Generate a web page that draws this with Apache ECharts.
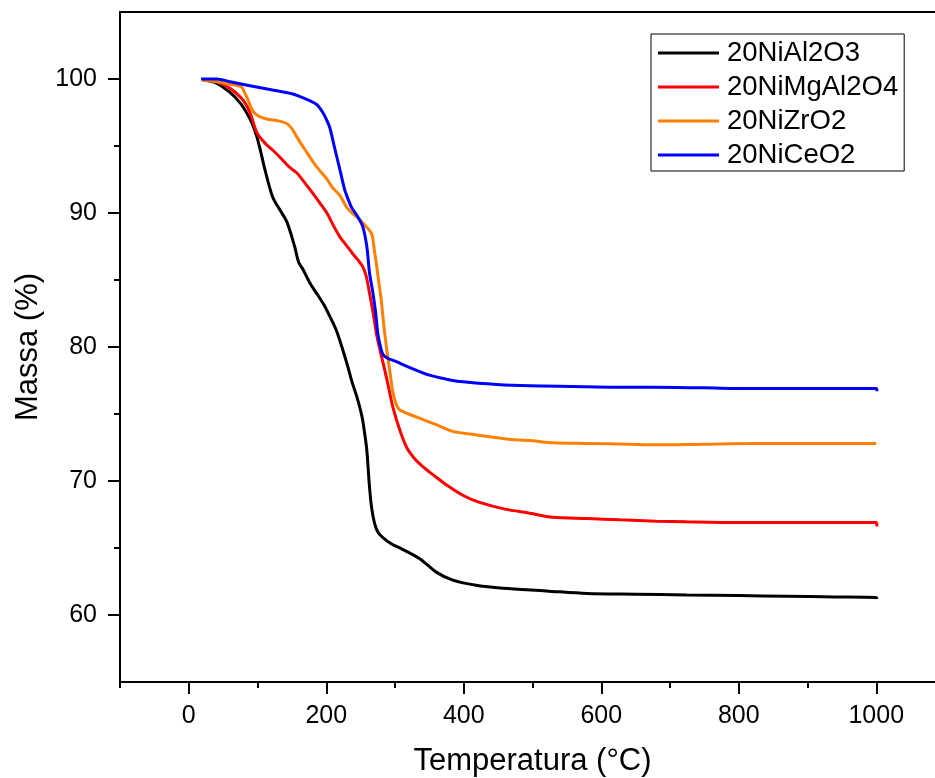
<!DOCTYPE html>
<html>
<head>
<meta charset="utf-8">
<script src="https://cdn.jsdelivr.net/npm/echarts@6/dist/echarts.min.js"></script>
<style>html,body{margin:0;padding:0;background:#fff;}#chart{width:935px;height:778px;}</style>
</head>
<body>
<div id="chart"></div>
<script>
// ---- Data ----
var seriesNames = ['20NiAl2O3', '20NiMgAl2O4', '20NiZrO2', '20NiCeO2'];
var seriesColors = ['#000000', '#ff0000', '#ff8000', '#0000ff'];

var tAl2O3 = [22, 40, 60, 75, 84, 92, 99, 105, 111, 122, 133, 143, 154, 160, 166, 176, 186, 196, 205, 215, 224, 231, 238, 245, 252, 256, 259, 263, 266, 270, 275, 282, 295, 311, 336, 360, 384, 420, 457, 520, 579, 650, 724, 800, 869, 940, 1000, 1001];
var mAl2O3 = [99.9, 99.7, 99.0, 98.2, 97.5, 96.7, 95.7, 94.5, 93.2, 91.2, 90.2, 89.3, 87.5, 86.3, 85.8, 84.8, 84.0, 83.2, 82.3, 81.2, 79.8, 78.6, 77.3, 76.2, 74.8, 73.5, 72.3, 69.5, 68.0, 66.9, 66.2, 65.8, 65.3, 64.9, 64.2, 63.2, 62.6, 62.2, 62.0, 61.8, 61.6, 61.55, 61.5, 61.45, 61.4, 61.35, 61.3, 61.2];

var tMgAl2O4 = [20, 40, 60, 74, 82, 89, 99, 106, 113, 122, 132, 147, 157, 168, 180, 190, 201, 210, 220, 229, 238, 246, 253, 258, 263, 268, 273, 279, 285, 291, 297, 307, 317, 328, 340, 357, 375, 400, 423, 460, 496, 529, 580, 627, 680, 724, 800, 869, 940, 1000, 1001];
var mMgAl2O4 = [99.9, 99.8, 99.3, 98.7, 98.2, 97.5, 96.0, 95.5, 95.1, 94.7, 94.2, 93.4, 93.0, 92.3, 91.5, 90.8, 90.0, 89.1, 88.2, 87.6, 87.0, 86.5, 86.0, 85.3, 84.0, 82.6, 81.0, 79.6, 78.3, 76.9, 75.5, 73.8, 72.5, 71.7, 71.1, 70.4, 69.7, 68.9, 68.4, 67.9, 67.6, 67.3, 67.2, 67.1, 67.0, 66.95, 66.9, 66.9, 66.9, 66.9, 66.6];

var tZrO2 = [20, 40, 60, 72, 77, 81, 84, 88, 92, 97, 103, 115, 128, 142, 150, 157, 163, 172, 181, 190, 200, 209, 220, 230, 240, 249, 256, 263, 267, 270, 273, 276, 280, 284, 288, 293, 297, 302, 307, 320, 340, 360, 384, 410, 438, 470, 500, 530, 580, 640, 675, 750, 820, 900, 1000];
var mZrO2 = [99.9, 99.8, 99.6, 99.5, 99.4, 99.0, 98.7, 98.2, 97.7, 97.4, 97.2, 97.0, 96.9, 96.7, 96.3, 95.7, 95.2, 94.5, 93.8, 93.2, 92.6, 91.9, 91.3, 90.4, 89.9, 89.5, 89.1, 88.7, 88.3, 87.2, 86.2, 85.0, 83.5, 81.5, 79.8, 78.0, 76.6, 75.7, 75.3, 75.0, 74.6, 74.2, 73.7, 73.5, 73.3, 73.1, 73.0, 72.85, 72.8, 72.75, 72.7, 72.75, 72.8, 72.8, 72.8];

var tCeO2 = [18, 30, 41, 60, 89, 120, 150, 161, 175, 186, 195, 200, 205, 212, 220, 227, 232, 237, 246, 253, 259, 263, 268, 272, 275, 279, 282, 288, 302, 320, 350, 375, 399, 448, 496, 560, 620, 675, 750, 820, 869, 940, 1000, 1001];
var mCeO2 = [100.0, 100.0, 100.0, 99.8, 99.5, 99.2, 98.9, 98.7, 98.4, 98.1, 97.5, 97.0, 96.4, 94.9, 93.2, 91.7, 91.0, 90.4, 89.7, 89.0, 87.5, 85.5, 84.0, 82.5, 81.0, 80.0, 79.5, 79.2, 78.9, 78.5, 77.9, 77.6, 77.4, 77.2, 77.1, 77.05, 77.0, 77.0, 76.95, 76.9, 76.9, 76.9, 76.9, 76.7];

var xMajorTicks = [0, 200, 400, 600, 800, 1000];
var xMinorTicks = [-100, 100, 300, 500, 700, 900];
var yMajorTicks = [60, 70, 80, 90, 100];
var yMinorTicks = [65, 75, 85, 95];
var xTitle = 'Temperatura (°C)';
var yTitle = 'Massa (%)';

// ---- Chart ----
var FONT = 'Liberation Sans, Arial, sans-serif';
var allT = [tAl2O3, tMgAl2O4, tZrO2, tCeO2];
var allM = [mAl2O3, mMgAl2O4, mZrO2, mCeO2];

var series = seriesNames.map(function (name, k) {
  return {
    name: name,
    type: 'line',
    xAxisIndex: 0,
    yAxisIndex: 0,
    showSymbol: false,
    smooth: 0.3,
    lineStyle: { color: seriesColors[k], width: 3 },
    itemStyle: { color: seriesColors[k] },
    data: allT[k].map(function (t, i) { return [t, allM[k][i]]; })
  };
});

function plain(v) { return String(v); }
var axisLineStyle = { show: true, onZero: false, lineStyle: { color: '#000', width: 2 } };

var option = {
  animation: false,
  backgroundColor: '#fff',
  grid: { left: 120, right: -10, top: 12, bottom: 96, containLabel: false, outerBoundsMode: 'none' },
  legend: {
    orient: 'vertical',
    left: 651,
    top: 34,
    data: seriesNames,
    icon: 'rect',
    itemWidth: 61,
    itemHeight: 3,
    itemGap: 6,
    padding: [5, 6, 2, 7],
    borderColor: '#000',
    borderWidth: 1,
    textStyle: { fontFamily: FONT, fontSize: 27.5, color: '#000', lineHeight: 28, padding: [0, 0, 0, 3] }
  },
  xAxis: [
    {
      type: 'value', position: 'bottom', min: -100, max: 1100,
      axisLine: axisLineStyle,
      splitLine: { show: false },
      axisTick: { show: true, inside: false, length: 12, customValues: xMajorTicks, lineStyle: { color: '#000', width: 2 } },
      axisLabel: { customValues: xMajorTicks, formatter: plain, margin: 22, fontFamily: FONT, fontSize: 25, color: '#000' },
      name: xTitle, nameLocation: 'middle', nameGap: 64,
      nameTextStyle: { fontFamily: FONT, fontSize: 31, color: '#000' }
    },
    {
      type: 'value', position: 'bottom', min: -100, max: 1100,
      axisLine: { show: false, onZero: false },
      splitLine: { show: false },
      axisTick: { show: true, inside: false, length: 6, customValues: xMinorTicks, lineStyle: { color: '#000', width: 2 } },
      axisLabel: { show: false }
    },
    {
      type: 'value', position: 'top', min: -100, max: 1100,
      axisLine: axisLineStyle,
      splitLine: { show: false },
      axisTick: { show: false },
      axisLabel: { show: false }
    }
  ],
  yAxis: [
    {
      type: 'value', position: 'left', min: 55, max: 105,
      axisLine: axisLineStyle,
      splitLine: { show: false },
      axisTick: { show: true, inside: false, length: 12, customValues: yMajorTicks, lineStyle: { color: '#000', width: 2 } },
      axisLabel: { customValues: yMajorTicks, formatter: plain, margin: 23, fontFamily: FONT, fontSize: 25, color: '#000' },
      name: yTitle, nameLocation: 'middle', nameGap: 74, nameRotate: 90,
      nameTextStyle: { fontFamily: FONT, fontSize: 31, color: '#000' }
    },
    {
      type: 'value', position: 'left', min: 55, max: 105,
      axisLine: { show: false, onZero: false },
      splitLine: { show: false },
      axisTick: { show: true, inside: false, length: 6, customValues: yMinorTicks, lineStyle: { color: '#000', width: 2 } },
      axisLabel: { show: false }
    }
  ],
  series: series
};

var chart = echarts.init(document.getElementById('chart'), null, { renderer: 'canvas' });
chart.setOption(option);
</script>
</body>
</html>
